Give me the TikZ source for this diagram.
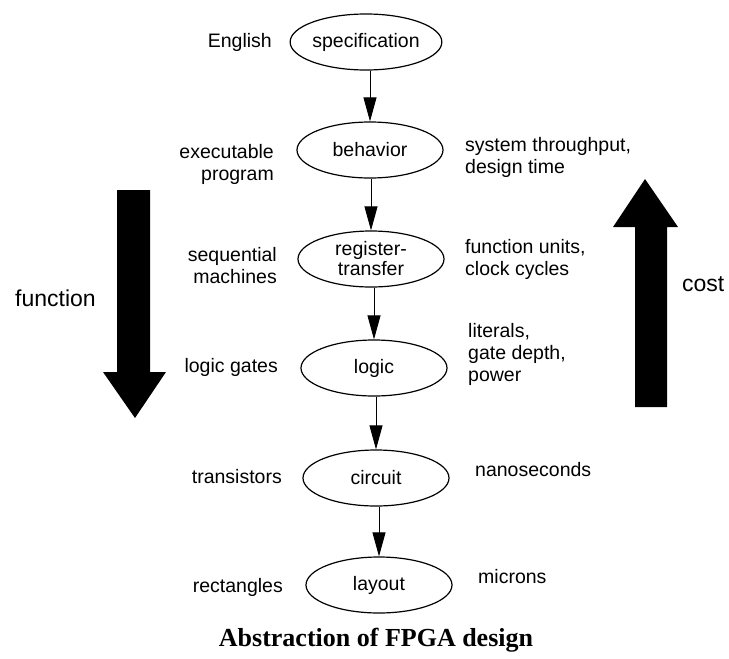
\documentclass[tikz,border=0pt]{standalone}
\usepackage{fontspec}
\setmainfont{Liberation Sans}
\newfontfamily\capfont{Liberation Serif}
\usetikzlibrary{shapes.geometric,arrows.meta}
\begin{document}
\begin{tikzpicture}[x=1pt,y=-1pt,
  lvl/.style={draw,ellipse,line width=1.2pt,minimum width=146pt,minimum height=56pt,inner sep=0pt,
    font=\fontsize{19.5}{22}\selectfont,align=center},
  lbl/.style={inner sep=0pt,font=\fontsize{19.5}{22}\selectfont},
  llbl/.style={lbl,anchor=east,align=right},
  rlbl/.style={lbl,anchor=west,align=left},
  biglbl/.style={inner sep=0pt,anchor=west,font=\fontsize{23}{26}\selectfont},
  flow/.style={line width=0.9pt,-{Triangle[length=24pt,width=13pt]}},
  bigarrow/.style={fill=black,draw=none}]
\useasboundingbox (0,0) rectangle (729,659);
% level ellipses
\node[lvl] (spec) at (366,42) {specification};
\node[lvl] (beh) at (370,150) {behavior};
\node[lvl] (rt) at (371,259) {register-\\[-2pt]transfer};
\node[lvl] (logic) at (374,368) {logic};
\node[lvl] (circ) at (376,478) {circuit};
\node[lvl] (lay) at (379,585) {layout};
% connectors
\draw[flow] (beh.north |- spec.south) -- (beh.north);
\draw[flow] (rt.north |- beh.south) -- (rt.north);
\draw[flow] (logic.north |- rt.south) -- (logic.north);
\draw[flow] (circ.north |- logic.south) -- (circ.north);
\draw[flow] (lay.north |- circ.south) -- (lay.north);
% left labels
\node[llbl] (lEng) at (272,42) {English};
\node[llbl] (lExe) at (274,164) {executable\\program};
\node[llbl] (lSeq) at (277,266) {sequential\\machines};
\node[llbl] (lGat) at (278,367) {logic gates};
\node[llbl] (lTra) at (282,477) {transistors};
\node[llbl] (lRec) at (283,587) {rectangles};
% right labels
\node[rlbl] (rSys) at (465,157) {system throughput,\\design time};
\node[rlbl] (rFun) at (465,259) {function units,\\clock cycles};
\node[rlbl] (rLit) at (468,354) {literals,\\gate depth,\\power};
\node[rlbl] (rNan) at (475,470) {nanoseconds};
\node[rlbl] (rMic) at (478,577) {microns};
% big arrows
\fill[bigarrow] (117,190) -- (150,190) -- (150,372) -- (166,372) -- (135,418) -- (103,372) -- (117,372) -- cycle;
\node[biglbl] (fun) at (15,298) {function};
\fill[bigarrow] (635,407) -- (667,407) -- (667,227) -- (678,227) -- (645,179) -- (613,227) -- (635,227) -- cycle;
\node[biglbl] (cost) at (682,284) {cost};
% caption
\node[inner sep=0pt,font=\capfont\bfseries\fontsize{26}{30}\selectfont] (cap) at (376,640) {Abstraction of FPGA design};
\end{tikzpicture}
\end{document}
